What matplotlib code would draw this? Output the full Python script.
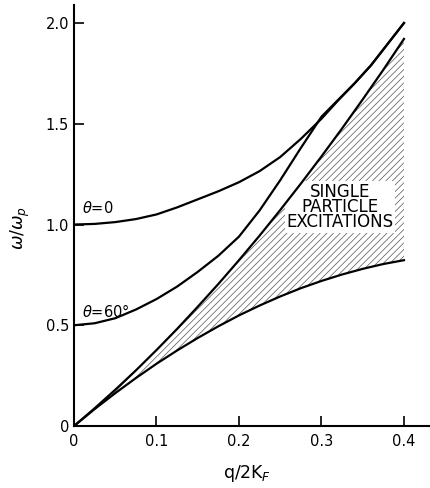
import numpy as np
import matplotlib
matplotlib.use('Agg')
import matplotlib.pyplot as plt

plt.rcParams['mathtext.fontset'] = 'dejavusans'
plt.rcParams['hatch.linewidth'] = 0.5

# curvas (q/2kF, w/wp)
q_theta0 = [0.0, 0.025, 0.05, 0.075, 0.10, 0.125, 0.15, 0.175, 0.20, 0.225, 0.25,
            0.275, 0.30, 0.32, 0.34, 0.36, 0.38, 0.40]
w_theta0 = [1.0, 1.003, 1.012, 1.027, 1.05, 1.085, 1.125, 1.165, 1.21, 1.265, 1.335,
            1.425, 1.525, 1.615, 1.70, 1.79, 1.895, 2.0]

q_theta60 = [0.0, 0.025, 0.05, 0.075, 0.10, 0.125, 0.15, 0.175, 0.20, 0.225, 0.25,
             0.275, 0.30, 0.32, 0.34, 0.36, 0.38, 0.40]
w_theta60 = [0.5, 0.51, 0.535, 0.578, 0.63, 0.692, 0.765, 0.845, 0.94, 1.07, 1.22,
             1.38, 1.535, 1.618, 1.70, 1.79, 1.895, 2.0]

# limites del continuo de particula individual
q_spe = [0.0, 0.025, 0.05, 0.075, 0.10, 0.125, 0.15, 0.175, 0.20, 0.225, 0.25,
         0.275, 0.30, 0.325, 0.35, 0.375, 0.40]
w_spe_sup = [0.0, 0.088, 0.18, 0.276, 0.377, 0.482, 0.592, 0.705, 0.823, 0.945, 1.072,
             1.203, 1.338, 1.477, 1.621, 1.768, 1.921]
w_spe_inf = [0.0, 0.084, 0.163, 0.238, 0.309, 0.375, 0.437, 0.495, 0.549, 0.598, 0.643,
             0.684, 0.720, 0.752, 0.780, 0.804, 0.823]

xticks = [0, 0.1, 0.2, 0.3, 0.4]
xticklabels = ['0', '0.1', '0.2', '0.3', '0.4']
yticks = [0, 0.5, 1.0, 1.5, 2.0]
yticklabels = ['0', '0.5', '1.0', '1.5', '2.0']

fig = plt.figure(figsize=(4.31, 4.88), dpi=100)
ax = fig.add_axes([0.1717, 0.127, 0.823, 0.863])

ax.fill_between(q_spe, w_spe_inf, w_spe_sup, facecolor='white', edgecolor='#555555',
                hatch='/////', linewidth=0, zorder=1)
# el texto tapa el rayado pero no las curvas
ax.text(0.322, 1.087, 'SINGLE\nPARTICLE\nEXCITATIONS', fontsize=12, ha='center', va='center',
        linespacing=0.82, bbox=dict(facecolor='white', edgecolor='none', pad=1), zorder=2)
ax.plot(q_spe, w_spe_sup, color='black', lw=1.6, zorder=3)
ax.plot(q_spe, w_spe_inf, color='black', lw=1.6, zorder=3)
ax.plot(q_theta0, w_theta0, color='black', lw=1.6, zorder=3)
ax.plot(q_theta60, w_theta60, color='black', lw=1.6, zorder=3)

ax.text(0.01, 1.08, r'$\theta$=0', fontsize=10.5, ha='left', va='center')
ax.text(0.01, 0.57, r'$\theta$=60°', fontsize=10.5, ha='left', va='center')

ax.set_xlim(0, 0.43)
ax.set_ylim(0, 2.09)
ax.set_xticks(xticks)
ax.set_xticklabels(xticklabels)
ax.set_yticks(yticks)
ax.set_yticklabels(yticklabels)
ax.tick_params(direction='in', length=7, width=1.2, labelsize=10.5)
ax.tick_params(axis='x', pad=6)

for s in ['top', 'right']:
    ax.spines[s].set_visible(False)
for s in ['left', 'bottom']:
    ax.spines[s].set_linewidth(1.5)

ax.set_xlabel(r'q/2K$_F$', fontsize=12.5)
ax.set_ylabel(r'$\omega/\omega_p$', fontsize=12.5)
ax.xaxis.label.set_va('center')
ax.yaxis.label.set_va('center')
ax.xaxis.set_label_coords(0.487, -0.112)
ax.yaxis.set_label_coords(-0.152, 0.47)

fig.savefig('out.png', dpi=100)
